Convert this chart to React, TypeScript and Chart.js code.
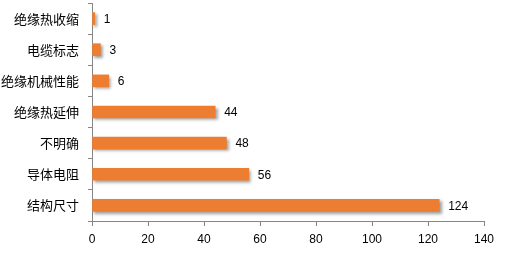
import React, { useEffect, useRef } from "react";
import { Chart, registerables } from "chart.js";

Chart.register(...registerables);

const categories = ["绝缘热收缩", "电缆标志", "绝缘机械性能", "绝缘热延伸", "不明确", "导体电阻", "结构尺寸"];
const counts = [1, 3, 6, 44, 48, 56, 124];
const xMin = 0;
const xMax = 140;
const xStep = 20;

const barColor = "#ED7D31";
const axisColor = "#868686";

const barExtras = {
  id: "barExtras",
  beforeDatasetsDraw(chart: any) {
    const ctx = chart.ctx;
    ctx.save();
    ctx.shadowColor = "rgba(0,0,0,0.38)";
    ctx.shadowOffsetX = 2;
    ctx.shadowOffsetY = 2;
    ctx.shadowBlur = 3;
  },
  afterDatasetsDraw(chart: any) {
    const ctx = chart.ctx;
    ctx.restore();
    ctx.save();
    ctx.font = "12px 'Liberation Sans', Arial, sans-serif";
    ctx.fillStyle = "#000";
    ctx.textAlign = "left";
    ctx.textBaseline = "middle";
    const meta = chart.getDatasetMeta(0);
    const data = chart.data.datasets[0].data;
    meta.data.forEach((bar: any, i: number) => {
      ctx.fillText(String(data[i]), bar.x + 9, bar.y + 1);
    });
    ctx.restore();
  },
};

export default function App() {
  const ref = useRef<HTMLCanvasElement | null>(null);
  useEffect(() => {
    if (!ref.current) return;
    const chart = new Chart(ref.current, {
      type: "bar",
      data: {
        labels: categories,
        datasets: [
          {
            data: counts,
            backgroundColor: barColor,
            borderWidth: 0,
            barThickness: 12,
          },
        ],
      },
      options: {
        indexAxis: "y",
        responsive: false,
        animation: false,
        layout: { padding: { left: 1, top: 3, right: 26, bottom: 14 } },
        plugins: { legend: { display: false }, tooltip: { enabled: false } },
        scales: {
          x: {
            min: xMin,
            max: xMax,
            ticks: {
              stepSize: xStep,
              color: "#000",
              padding: 6,
              font: { family: "'Liberation Sans', Arial, sans-serif", size: 12 },
            },
            grid: { drawOnChartArea: false, drawTicks: true, tickLength: 5, color: axisColor },
            border: { display: true, color: axisColor },
            afterFit(scale: any) {
              scale.paddingLeft = 0;
              scale.paddingRight = 0;
              scale.height = 26;
            },
          },
          y: {
            ticks: {
              color: "#000",
              padding: 9,
              font: { family: "'Noto Sans CJK SC', sans-serif", size: 13 },
            },
            grid: { drawOnChartArea: false, drawTicks: true, tickLength: 4, color: axisColor, offset: true },
            border: { display: true, color: axisColor },
            afterFit(scale: any) {
              scale.paddingTop = 0;
              scale.paddingBottom = 0;
              scale.width = 91;
            },
          },
        },
      },
      plugins: [barExtras],
    });
    return () => chart.destroy();
  }, []);
  return (
    <div style={{ position: "fixed", left: 0, top: 0, width: 510, height: 261, background: "#fff" }}>
      <canvas ref={ref} width={510} height={261} />
    </div>
  );
}
